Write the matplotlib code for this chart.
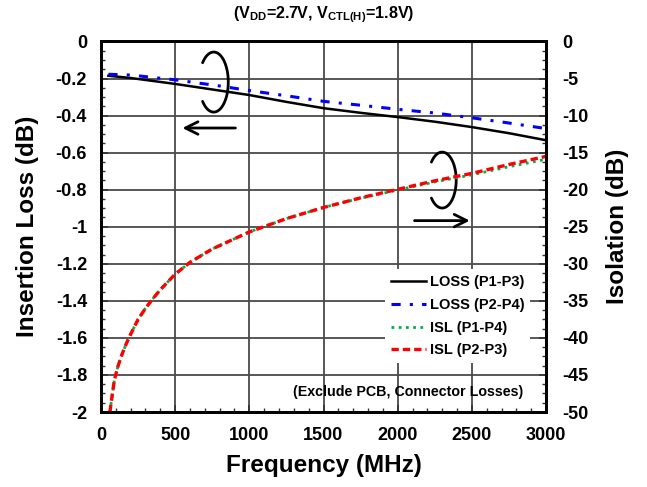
import matplotlib
matplotlib.use("Agg")
import numpy as np
import matplotlib.pyplot as plt
from matplotlib.ticker import MultipleLocator

plt.rcParams['font.family'] = ['Liberation Sans', 'DejaVu Sans']
plt.rcParams['font.weight'] = 'bold'
plt.rcParams['mathtext.fontset'] = 'custom'
plt.rcParams['mathtext.bf'] = 'Liberation Sans:bold'
plt.rcParams['mathtext.rm'] = 'Liberation Sans:bold'
plt.rcParams['mathtext.default'] = 'bf'

# ---- data ----
freq_loss = [50, 200, 500, 800, 1000, 1250, 1500, 1750, 2000, 2250, 2500, 2750, 3000]
loss_p1p3 = [-0.185, -0.197, -0.229, -0.265, -0.289, -0.326, -0.360, -0.385, -0.408,
             -0.433, -0.462, -0.495, -0.533]
loss_p2p4 = [-0.177, -0.181, -0.207, -0.240, -0.265, -0.293, -0.323, -0.344, -0.366,
             -0.386, -0.412, -0.440, -0.470]

freq_isl = [60, 75, 90, 115, 140, 170, 200, 250, 300, 350, 400, 500, 600, 750, 1000,
            1250, 1500, 1750, 2000, 2250, 2500, 2750, 3000]
isl_p2p3 = [-50.0, -47.8, -45.7, -43.8, -42.3, -40.8, -39.5, -37.5, -36.0, -34.7, -33.5,
            -31.4, -29.8, -28.0, -25.7, -23.9, -22.4, -21.1, -19.95, -18.8, -17.8, -16.6, -15.5]
isl_p1p4 = [-50.0, -47.8, -45.7, -43.8, -42.3, -40.8, -39.5, -37.5, -36.0, -34.7, -33.5,
            -31.4, -29.8, -28.0, -25.7, -23.9, -22.4, -21.15, -20.05, -18.95, -18.0, -16.9, -15.9]

labels = ['LOSS (P1-P3)', 'LOSS (P2-P4)', 'ISL (P1-P4)', 'ISL (P2-P3)']
xticks = [0, 500, 1000, 1500, 2000, 2500, 3000]
yticks_left = [0, -0.2, -0.4, -0.6, -0.8, -1, -1.2, -1.4, -1.6, -1.8, -2]
yticks_right = [0, -5, -10, -15, -20, -25, -30, -35, -40, -45, -50]

fig = plt.figure(figsize=(6.47, 4.87), dpi=100)
ax = fig.add_axes([0.1561, 0.154, 0.6878, 0.7608])
ax2 = ax.twinx()

ax.set_xlim(0, 3000)
ax.set_ylim(-2, 0)
ax2.set_ylim(-50, 0)

ax.set_xticks(xticks)
ax.set_xticklabels([str(v) for v in xticks])
ax.set_yticks(yticks_left)
ax.set_yticklabels(['0' if v == 0 else ('%g' % v) for v in yticks_left])
ax2.set_yticks(yticks_right)
ax2.set_yticklabels([str(v) for v in yticks_right])
ax.xaxis.set_minor_locator(MultipleLocator(100))
ax.yaxis.set_minor_locator(MultipleLocator(0.05))
ax2.yaxis.set_minor_locator(MultipleLocator(1.25))

ax.grid(True, which='major', color='#4a4a4a', linewidth=1.3)
ax.set_axisbelow(True)

for a in (ax, ax2):
    a.tick_params(which='both', direction='in', labelsize=13, color='#333333')
    a.tick_params(which='major', length=5, width=1.2, pad=10)
    a.tick_params(which='minor', length=3, width=1.0)
    for s in a.spines.values():
        s.set_linewidth(2)
        s.set_color('black')
ax2.tick_params(axis='y', which='major', pad=12)
ax.tick_params(axis='x', which='major', pad=11)

ax.set_xlabel('Frequency (MHz)', fontsize=17.5, fontweight='bold', labelpad=7)
ax.set_ylabel('Insertion Loss (dB)', fontsize=17.5, fontweight='bold', labelpad=12)
ax2.set_ylabel('Isolation (dB)', fontsize=17.5, fontweight='bold', labelpad=12)

l1, = ax.plot(freq_loss, loss_p1p3, color='black', lw=1.8, label=labels[0])
l2, = ax.plot(freq_loss, loss_p2p4, color='#0000ff', lw=2.2,
              dashes=(3, 3, 1, 3), label=labels[1])
l3, = ax2.plot(freq_isl, isl_p1p4, color='#00b050', lw=2.0,
               dashes=(1, 1.6), label=labels[2])
l4, = ax2.plot(freq_isl, isl_p2p3, color='#ff0000', lw=2.4,
               dashes=(2.2, 1.2), label=labels[3])

leg = ax2.legend(handles=[l1, l2, l3, l4], loc='upper right',
                 bbox_to_anchor=(0.965, 0.385), fontsize=10.5,
                 handlelength=2.4, handletextpad=0.3, labelspacing=0.6,
                 frameon=True, fancybox=False, borderpad=0.4, borderaxespad=0)
leg.get_frame().set_facecolor('white')
leg.get_frame().set_edgecolor('none')
leg.get_frame().set_alpha(1)
for t in leg.get_texts():
    t.set_fontweight('bold')


def open_ellipse(axis, cx, cy, w, h):
    t = np.deg2rad(np.linspace(-140, 140, 120))
    axis.plot(cx + w / 2 * np.cos(t), cy + h / 2 * np.sin(t),
              color='black', lw=2, zorder=5, solid_capstyle='round')


# annotations (left: insertion loss, right: isolation)
open_ellipse(ax, 760, -0.219, 196, 0.324)
ax.annotate('', xy=(530, -0.467), xytext=(925, -0.467),
            arrowprops=dict(arrowstyle='->,head_length=0.9,head_width=0.45',
                            color='black', lw=2), zorder=5)
open_ellipse(ax, 2300, -0.748, 189, 0.302)
ax.annotate('', xy=(2505, -0.967), xytext=(2095, -0.967),
            arrowprops=dict(arrowstyle='->,head_length=0.9,head_width=0.45',
                            color='black', lw=2), zorder=5)

ax2.text(2845, -47.3, '(Exclude PCB, Connector Losses)', ha='right', va='center',
         fontsize=10.3, fontweight='bold', zorder=6)

fig.text(0.5, 0.969, r'(V$_{DD}$=2.7V, V$_{CTL(H)}$=1.8V)', ha='center', va='center',
         fontsize=11.6, fontweight='bold')

fig.savefig('out.png', dpi=100)
